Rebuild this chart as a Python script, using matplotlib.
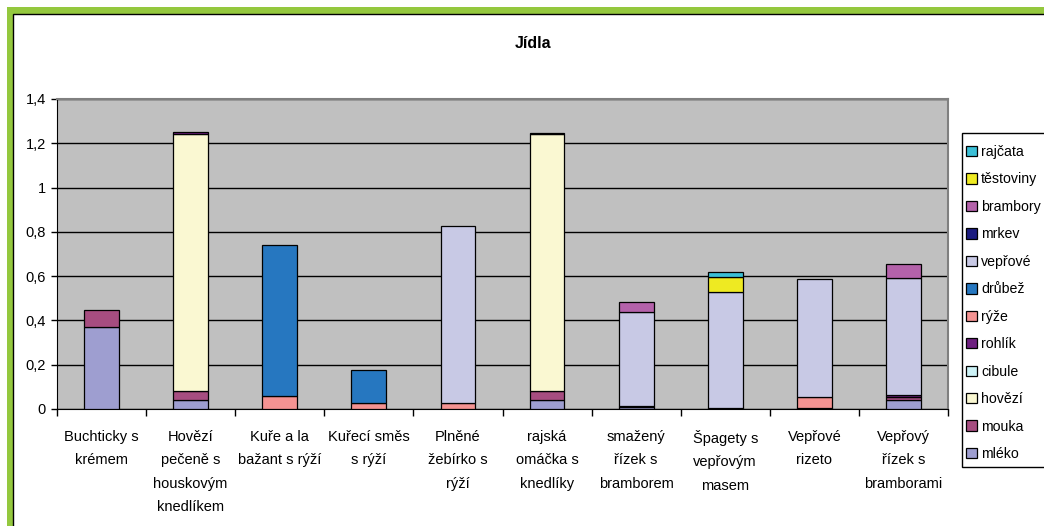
import numpy as np
import matplotlib
matplotlib.use("Agg")
import matplotlib.pyplot as plt
from matplotlib.patches import Rectangle
from matplotlib.ticker import FuncFormatter

plt.rcParams['font.family'] = ['Liberation Sans', 'DejaVu Sans']

categories = ["Buchticky s\nkrémem", "Hovězí\npečeně s\nhouskovým\nknedlíkem",
              "Kuře a la\nbažant s rýží", "Kuřecí směs\ns rýží",
              "Plněné\nžebírko s\nrýží", "rajská\nomáčka s\nknedlíky",
              "smažený\nřízek s\nbramborem", "Špagety s\nvepřovým\nmasem",
              "Vepřové\nrizeto", "Vepřový\nřízek s\nbramborami"]

# stacked bottom -> top
mleko     = [0.370, 0.040, 0,     0,     0,     0.040, 0.007, 0,     0,     0.040]
mouka     = [0.075, 0.040, 0,     0,     0,     0.040, 0.007, 0.004, 0.005, 0.012]
hovezi    = [0,     1.160, 0,     0,     0,     1.160, 0,     0,     0,     0]
cibule    = [0,     0,     0,     0,     0,     0,     0,     0,     0,     0]
rohlik    = [0,     0.012, 0,     0,     0,     0,     0,     0,     0,     0.012]
ryze      = [0,     0,     0.057, 0.025, 0.025, 0,     0,     0,     0.050, 0]
drubez    = [0,     0,     0.683, 0.150, 0,     0,     0,     0,     0,     0]
veprove   = [0,     0,     0,     0,     0.800, 0,     0.426, 0.524, 0.532, 0.526]
mrkev     = [0,     0,     0,     0,     0,     0.006, 0,     0,     0,     0]
brambory  = [0,     0,     0,     0,     0,     0,     0.043, 0,     0,     0.065]
testoviny = [0,     0,     0,     0,     0,     0,     0,     0.070, 0,     0]
rajcata   = [0,     0,     0,     0,     0,     0,     0,     0.022, 0,     0]

series = [("mléko", mleko, "#9e9ed0"), ("mouka", mouka, "#a64d80"),
          ("hovězí", hovezi, "#faf8d2"), ("cibule", cibule, "#ccf2f6"),
          ("rohlík", rohlik, "#6e2080"), ("rýže", ryze, "#f49392"),
          ("drůbež", drubez, "#2677c0"), ("vepřové", veprove, "#c8c9e5"),
          ("mrkev", mrkev, "#1c1c80"), ("brambory", brambory, "#b462aa"),
          ("těstoviny", testoviny, "#eeea22"), ("rajčata", rajcata, "#3bbfd6")]

W, H = 1044, 526
fig = plt.figure(figsize=(W / 100, H / 100), dpi=100, facecolor="white")

# green frame + black inner border (behind the axes)
fig.patches.append(Rectangle((7 / W, -0.1), 1.2, (H - 7) / H + 0.1, transform=fig.transFigure,
                             facecolor="#94c83e", edgecolor="none", zorder=-3))
fig.patches.append(Rectangle((12.5 / W, -0.1), 1.2, (H - 14) / H + 0.1, transform=fig.transFigure,
                             facecolor="white", edgecolor="black", lw=1, zorder=-2))
# legend box, runs off the right edge like the original
fig.patches.append(Rectangle((962 / W, 1 - 467 / H), 0.2, 334 / H, transform=fig.transFigure,
                             facecolor="white", edgecolor="black", lw=1, zorder=-1))

ax = fig.add_axes([57 / W, (H - 409) / H, 891 / W, 310 / H])
ax.set_facecolor("#c0c0c0")

x = np.arange(len(categories))
bottom = np.zeros(len(categories))
handles = []
for name, vals, col in series:
    vals = np.array(vals)
    m = vals > 0  # skip empty segments so they don't leave edge lines
    ax.bar(x[m], vals[m], 0.39, bottom=bottom[m], color=col, edgecolor="black",
           linewidth=0.9, label=name, zorder=3)
    handles.append(Rectangle((0, 0), 1, 1, facecolor=col, edgecolor="black", linewidth=0.9))
    bottom += vals

ax.set_xlim(-0.5, len(categories) - 0.5)
ax.set_ylim(0, 1.4)
ax.set_yticks(np.arange(0, 1.41, 0.2))
ax.yaxis.set_major_formatter(FuncFormatter(lambda v, p: ("%g" % round(v, 1)).replace(".", ",")))
ax.yaxis.grid(True, color="black", linewidth=1, zorder=1)
ax.set_axisbelow(True)

ax.set_xticks(x)
ax.set_xticklabels(categories, linespacing=1.86)
ax.set_xticks(np.arange(-0.5, len(categories)), minor=True)
ax.tick_params(axis="x", which="major", length=0, pad=15, labelsize=10.5)
ax.tick_params(axis="x", which="minor", length=5, width=1, color="black")
ax.tick_params(axis="y", length=4, width=1, labelsize=10.5, pad=4)

for s in ["top", "right"]:
    ax.spines[s].set_color("#808080")
    ax.spines[s].set_linewidth(1.5)
ax.spines["left"].set_color("black")
ax.spines["bottom"].set_color("black")

fig.text(533 / W, 1 - 44 / H, "Jídla", ha="center", va="center", fontsize=11.5, fontweight="bold")

fig.legend(handles[::-1], [s[0] for s in series][::-1], loc="upper left",
           bbox_to_anchor=(966 / W, 1 - 145 / H), bbox_transform=fig.transFigure,
           fontsize=10.2, frameon=False,
           handlelength=0.75, handleheight=0.75, handletextpad=0.3,
           labelspacing=0.95, borderpad=0, borderaxespad=0)

fig.savefig("out.png", dpi=100, facecolor="white")
